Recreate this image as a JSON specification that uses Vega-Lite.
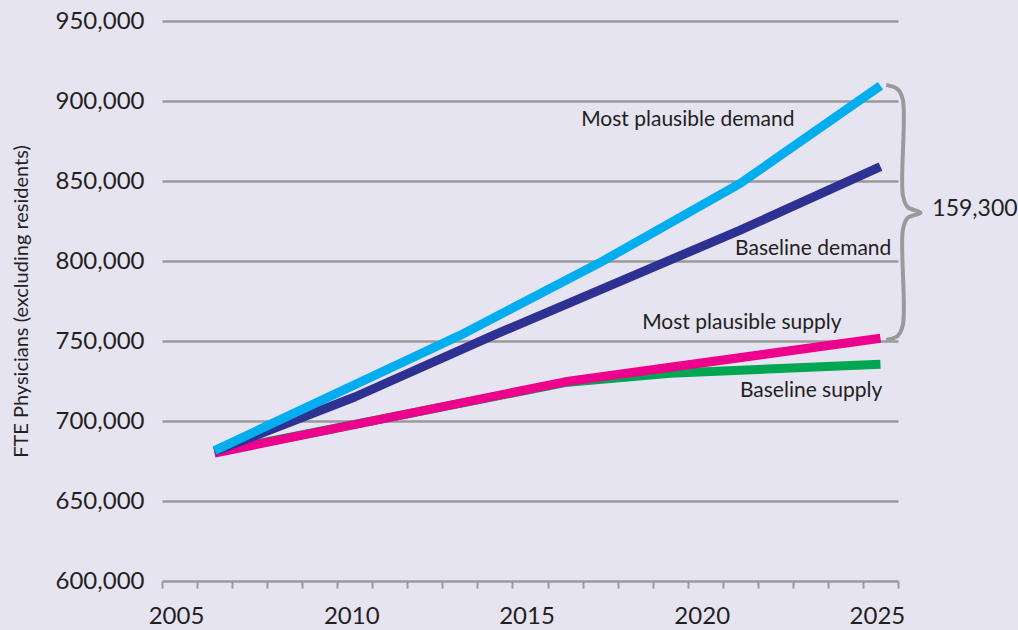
{
  "$schema": "https://vega.github.io/schema/vega-lite/v6.json",
  "width": 736,
  "height": 560,
  "autosize": {"type": "none"},
  "padding": {"left": 162, "top": 21, "right": 120, "bottom": 49},
  "background": "#e7e4f1",
  "config": {
    "view": {"stroke": null},
    "font": "Lato",
    "axis": {"labelFont": "Lato", "titleFont": "Lato", "labelColor": "#231f20", "titleColor": "#231f20"}
  },
  "datasets": {
    "series": [
      {"series": "Baseline supply", "year": 2006, "value": 680500},
      {"series": "Baseline supply", "year": 2016, "value": 724000},
      {"series": "Baseline supply", "year": 2019, "value": 729800},
      {"series": "Baseline supply", "year": 2025, "value": 735500},
      {"series": "Most plausible supply", "year": 2006, "value": 680000},
      {"series": "Most plausible supply", "year": 2016, "value": 724500},
      {"series": "Most plausible supply", "year": 2025, "value": 751700},
      {"series": "Baseline demand", "year": 2006, "value": 681000},
      {"series": "Baseline demand", "year": 2010, "value": 715000},
      {"series": "Baseline demand", "year": 2014, "value": 754000},
      {"series": "Baseline demand", "year": 2021, "value": 819300},
      {"series": "Baseline demand", "year": 2025, "value": 859000},
      {"series": "Most plausible demand", "year": 2006, "value": 681500},
      {"series": "Most plausible demand", "year": 2013, "value": 753500},
      {"series": "Most plausible demand", "year": 2017, "value": 799000},
      {"series": "Most plausible demand", "year": 2021, "value": 848500},
      {"series": "Most plausible demand", "year": 2025, "value": 909500}
    ],
    "brace": [
      {"i": 1, "year": 2025.165, "value": 910000},
      {"i": 2, "year": 2025.487, "value": 907500},
      {"i": 3, "year": 2025.639, "value": 900625},
      {"i": 4, "year": 2025.639, "value": 841250},
      {"i": 5, "year": 2025.773, "value": 833750},
      {"i": 6, "year": 2026.143, "value": 830190},
      {"i": 7, "year": 2025.773, "value": 826875},
      {"i": 8, "year": 2025.639, "value": 819375},
      {"i": 9, "year": 2025.639, "value": 760000},
      {"i": 10, "year": 2025.487, "value": 753125},
      {"i": 11, "year": 2025.165, "value": 750625}
    ],
    "labelsLeft": [
      {"label": "Most plausible demand", "year": 2016.46, "value": 888100},
      {"label": "Most plausible supply", "year": 2018.2, "value": 761500}
    ],
    "labelsRight": [
      {"label": "Baseline demand", "year": 2025.31, "value": 807200},
      {"label": "Baseline supply", "year": 2025.05, "value": 719000}
    ],
    "gap": [
      {"label": "159,300", "year": 2026.48, "value": 832700}
    ]
  },
  "layer": [
    {
      "data": {"name": "series"},
      "mark": {"type": "line", "strokeWidth": 9, "strokeCap": "butt", "strokeJoin": "round"},
      "encoding": {
        "x": {
          "field": "year", "type": "quantitative",
          "scale": {"domain": [2004.5, 2025.5], "nice": false, "zero": false},
          "axis": {
            "title": null,
            "values": [2004.5, 2005.5, 2006.5, 2007.5, 2008.5, 2009.5, 2010.5, 2011.5, 2012.5, 2013.5, 2014.5, 2015.5, 2016.5, 2017.5, 2018.5, 2019.5, 2020.5, 2021.5, 2022.5, 2023.5, 2024.5, 2025.5],
            "tickCount": 40,
            "labelExpr": "(datum.value + 0.5) % 5 == 0 ? format(datum.value + 0.5, 'd') : ''",
            "labelOverlap": false,
            "labelFlush": false,
            "labelBound": false,
            "labelOffset": 14,
            "labelFontSize": 24,
            "labelPadding": 16,
            "grid": false,
            "domain": false,
            "ticks": true,
            "tickColor": "#9a9a9a",
            "tickWidth": 2,
            "tickSize": 7
          }
        },
        "y": {
          "field": "value", "type": "quantitative",
          "scale": {"domain": [600000, 950000], "nice": false, "zero": false},
          "axis": {
            "title": "FTE Physicians (excluding residents)",
            "titleFontSize": 20,
            "titleFontWeight": "normal",
            "titleX": -141,
            "titleY": 280,
            "titleAlign": "center",
            "titleBaseline": "middle",
            "values": [600000, 650000, 700000, 750000, 800000, 850000, 900000, 950000],
            "format": ",d",
            "labelFontSize": 24,
            "labelPadding": 18,
            "ticks": false,
            "domain": false,
            "grid": true,
            "gridColor": "#9a9a9a",
            "gridWidth": 2.5
          }
        },
        "color": {
          "field": "series", "type": "nominal",
          "scale": {
            "domain": ["Baseline supply", "Most plausible supply", "Baseline demand", "Most plausible demand"],
            "range": ["#00a651", "#ec008c", "#2e3192", "#00aeef"]
          },
          "legend": null
        }
      }
    },
    {
      "data": {"name": "brace"},
      "mark": {"type": "line", "interpolate": "catmull-rom", "stroke": "#9a9a9a", "strokeWidth": 4, "strokeCap": "butt"},
      "encoding": {
        "x": {"field": "year", "type": "quantitative"},
        "y": {"field": "value", "type": "quantitative"},
        "order": {"field": "i", "type": "quantitative"}
      }
    },
    {
      "data": {"name": "labelsLeft"},
      "mark": {"type": "text", "align": "left", "baseline": "middle", "fontSize": 21, "color": "#231f20", "font": "Lato"},
      "encoding": {
        "x": {"field": "year", "type": "quantitative"},
        "y": {"field": "value", "type": "quantitative"},
        "text": {"field": "label"}
      }
    },
    {
      "data": {"name": "labelsRight"},
      "mark": {"type": "text", "align": "right", "baseline": "middle", "fontSize": 21, "color": "#231f20", "font": "Lato"},
      "encoding": {
        "x": {"field": "year", "type": "quantitative"},
        "y": {"field": "value", "type": "quantitative"},
        "text": {"field": "label"}
      }
    },
    {
      "data": {"name": "gap"},
      "mark": {"type": "text", "align": "left", "baseline": "middle", "fontSize": 23, "color": "#231f20", "font": "Lato"},
      "encoding": {
        "x": {"field": "year", "type": "quantitative"},
        "y": {"field": "value", "type": "quantitative"},
        "text": {"field": "label"}
      }
    }
  ]
}
